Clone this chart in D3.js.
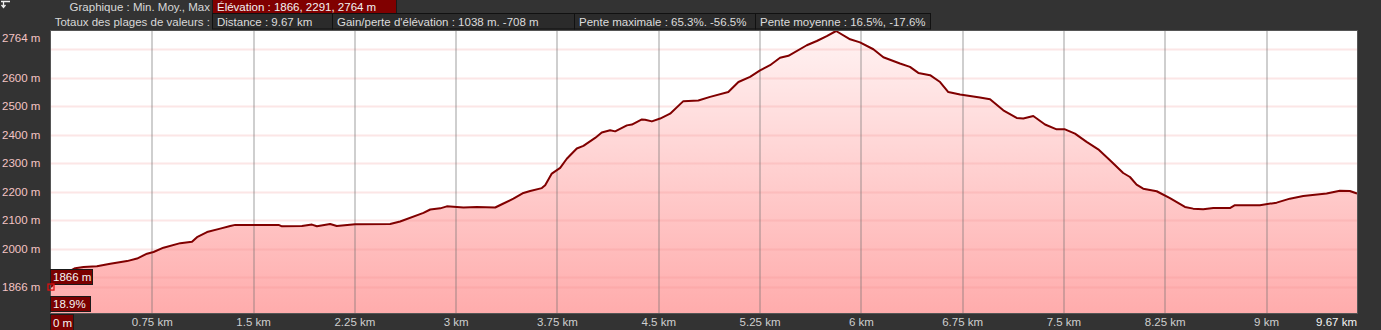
<!DOCTYPE html>
<html>
<head>
<meta charset="utf-8">
<script src="https://cdn.jsdelivr.net/npm/d3@7"></script>
<style>
body { margin: 0; background: #333; }
svg { display: block; font-family: "Liberation Sans", Arial, sans-serif; font-size: 11.5px; }
</style>
</head>
<body>
<svg width="1381" height="330"></svg>
<script>
var svg = d3.select('svg');

// profile: distance (km) / elevation (m)
var distKm = [0, 0.039, 0.106, 0.179, 0.241, 0.340, 0.439, 0.563, 0.637, 0.711, 0.759, 0.833, 0.957, 1.044, 1.081,
  1.155, 1.253, 1.327, 1.364, 1.685, 1.710, 1.858, 1.932, 1.969, 2.067, 2.116, 2.252, 2.511, 2.585, 2.758,
  2.808, 2.882, 2.931, 3.054, 3.153, 3.289, 3.350, 3.424, 3.498, 3.548, 3.634, 3.659, 3.708, 3.770, 3.819,
  3.893, 3.942, 4.029, 4.078, 4.140, 4.177, 4.264, 4.301, 4.375, 4.399, 4.449, 4.510, 4.584, 4.682, 4.793,
  4.880, 5.015, 5.090, 5.176, 5.250, 5.324, 5.398, 5.460, 5.596, 5.670, 5.744, 5.813, 5.917, 5.990, 6.089,
  6.163, 6.286, 6.360, 6.422, 6.509, 6.583, 6.644, 6.731, 6.878, 6.953, 7.051, 7.150, 7.199, 7.273, 7.360,
  7.446, 7.508, 7.582, 7.668, 7.754, 7.841, 7.939, 7.989, 8.038, 8.087, 8.187, 8.285, 8.396, 8.457, 8.531,
  8.606, 8.729, 8.766, 8.951, 9.075, 9.173, 9.272, 9.445, 9.543, 9.617, 9.67];
var elevM = [1866, 1890, 1914, 1932, 1936, 1939, 1948, 1957, 1966, 1983, 1989, 2004, 2020, 2025, 2041,
  2059, 2071, 2080, 2084, 2084, 2079, 2080, 2085, 2079, 2087, 2080, 2086, 2087, 2096, 2126,
  2138, 2142, 2149, 2145, 2147, 2145, 2159, 2176, 2196, 2203, 2213, 2223, 2264, 2284, 2316,
  2352, 2361, 2389, 2408, 2416, 2412, 2433, 2436, 2454, 2453, 2447, 2457, 2474, 2518, 2520,
  2533, 2550, 2585, 2603, 2626, 2644, 2670, 2677, 2714, 2729, 2746, 2764, 2735, 2724, 2700,
  2672, 2650, 2638, 2617, 2609, 2585, 2550, 2541, 2531, 2525, 2486, 2459, 2457, 2466, 2436,
  2419, 2419, 2404, 2375, 2349, 2311, 2266, 2252, 2225, 2211, 2202, 2178, 2147, 2141, 2139,
  2143, 2143, 2153, 2153, 2162, 2176, 2185, 2194, 2204, 2203, 2194];

var yGridVals = [1866, 1900, 2000, 2100, 2200, 2300, 2400, 2500, 2600, 2700];
var yLabelVals = [2764, 2600, 2500, 2400, 2300, 2200, 2100, 2000, 1866];
var xTickVals = [0.75, 1.5, 2.25, 3, 3.75, 4.5, 5.25, 6, 6.75, 7.5, 8.25, 9];
var xTickLabels = ['0.75 km', '1.5 km', '2.25 km', '3 km', '3.75 km', '4.5 km', '5.25 km', '6 km', '6.75 km', '7.5 km', '8.25 km', '9 km'];

var headerRow1 = ['Élévation : 1866, 2291, 2764 m'];
var headerRow2 = ['Distance : 9.67 km', 'Gain/perte d\'élévation : 1038 m. -708 m', 'Pente maximale : 65.3%. -56.5%', 'Pente moyenne : 16.5%, -17.6%'];

var data = distKm.map(function(d, i){ return {km: d, el: elevM[i]}; });

var x = d3.scaleLinear().domain([0, 9.67]).range([51, 1357]);
var y = d3.scaleLinear().domain([1775, 2764]).range([313, 31]);

// header
svg.append('path')
    .attr('d', 'M1,1.5H10M3.5,1.5V7M1.5,5L3.5,7.5L5.5,5')
    .attr('stroke', '#eee').attr('fill', 'none').attr('stroke-width', 1.3);

svg.append('text').attr('x', 210).attr('y', 6.7).attr('dy', '0.35em')
    .attr('text-anchor', 'end').attr('fill', '#d8d8d8').text('Graphique : Min. Moy., Max');
svg.append('text').attr('x', 210).attr('y', 21.5).attr('dy', '0.35em')
    .attr('text-anchor', 'end').attr('fill', '#d8d8d8').text('Totaux des plages de valeurs :');

svg.append('rect').attr('x', 212.5).attr('y', -1).attr('width', 184).attr('height', 14.5)
    .attr('fill', '#800000').attr('stroke', '#1a1a1a');
svg.append('text').attr('x', 217).attr('y', 6.7).attr('dy', '0.35em')
    .attr('fill', '#f2f2f2').text(headerRow1[0]);

var boxEdges = [212, 332, 574, 755, 930];
svg.selectAll('.hbox')
    .data(headerRow2)
    .enter()
    .append('rect')
    .attr('class', 'hbox')
    .attr('x', function(d, i){ return boxEdges[i] + 0.5; })
    .attr('y', 13.5)
    .attr('width', function(d, i){ return boxEdges[i + 1] - boxEdges[i]; })
    .attr('height', 15.5)
    .attr('fill', '#2b2b2b')
    .attr('stroke', '#111');
svg.selectAll('.htxt')
    .data(headerRow2)
    .enter()
    .append('text')
    .attr('class', 'htxt')
    .attr('x', function(d, i){ return boxEdges[i] + 5; })
    .attr('y', 21.5)
    .attr('dy', '0.35em')
    .attr('fill', '#dcdcdc')
    .text(function(d){ return d; });

// plot area
var defs = svg.append('defs');
var grad = defs.append('linearGradient')
    .attr('id', 'fillGrad')
    .attr('gradientUnits', 'userSpaceOnUse')
    .attr('x1', 0).attr('x2', 0).attr('y1', 31).attr('y2', 313);
grad.append('stop').attr('offset', '0%').attr('stop-color', '#fff3f3');
grad.append('stop').attr('offset', '100%').attr('stop-color', '#ffacac');

svg.append('rect').attr('x', 51).attr('y', 31).attr('width', 1306).attr('height', 282).attr('fill', '#fff');

var area = d3.area()
    .x(function(d){ return x(d.km); })
    .y0(313)
    .y1(function(d){ return y(d.el); });
svg.append('path').datum(data).attr('d', area).attr('fill', 'url(#fillGrad)');

svg.selectAll('.hgrid')
    .data(yGridVals)
    .enter()
    .append('line')
    .attr('class', 'hgrid')
    .attr('x1', 51).attr('x2', 1357)
    .attr('y1', function(d){ return Math.round(y(d)) + 0.5; })
    .attr('y2', function(d){ return Math.round(y(d)) + 0.5; })
    .attr('stroke', 'rgba(240,140,140,0.22)')
    .attr('stroke-width', 2);

svg.selectAll('.vgrid')
    .data(xTickVals)
    .enter()
    .append('line')
    .attr('class', 'vgrid')
    .attr('x1', function(d){ return Math.round(x(d)); })
    .attr('x2', function(d){ return Math.round(x(d)); })
    .attr('y1', 31).attr('y2', 313)
    .attr('stroke', 'rgba(110,110,110,0.33)')
    .attr('stroke-width', 2);

var line = d3.line()
    .x(function(d){ return x(d.km); })
    .y(function(d){ return y(d.el); });
svg.append('path').datum(data).attr('d', line)
    .attr('fill', 'none').attr('stroke', '#800000').attr('stroke-width', 2).attr('stroke-linejoin', 'round');

svg.append('rect').attr('x', 50.5).attr('y', 30.5).attr('width', 1307).attr('height', 283)
    .attr('fill', 'none').attr('stroke', '#555');

// y labels
svg.selectAll('.ylab')
    .data(yLabelVals)
    .enter()
    .append('text')
    .attr('class', 'ylab')
    .attr('x', 2)
    .attr('y', function(d){ return Math.max(y(d), 38); })
    .attr('dy', '0.35em')
    .attr('fill', '#f4c4c4')
    .text(function(d){ return d + ' m'; });

// x labels
svg.selectAll('.xlab')
    .data(xTickVals)
    .enter()
    .append('text')
    .attr('class', 'xlab')
    .attr('x', function(d){ return x(d); })
    .attr('y', 322)
    .attr('dy', '0.35em')
    .attr('text-anchor', 'middle')
    .attr('fill', '#cfcfcf')
    .text(function(d, i){ return xTickLabels[i]; });
svg.append('text').attr('x', 1357).attr('y', 322).attr('dy', '0.35em')
    .attr('text-anchor', 'end').attr('fill', '#f4f4f4').text('9.67 km');

// markers at start
function tagBox(bx, by, w, h, label){
    svg.append('rect').attr('x', bx + 0.5).attr('y', by + 0.5).attr('width', w).attr('height', h)
        .attr('fill', '#7a0000').attr('stroke', '#1a1a1a');
    svg.append('text').attr('x', bx + 3).attr('y', by + h / 2 + 0.5).attr('dy', '0.35em')
        .attr('fill', '#f4f4f4').text(label);
}
tagBox(50, 269, 42, 15, elevM[0] + ' m');
tagBox(50, 296, 40, 15, '18.9%');
tagBox(50, 314, 23, 16, '0 m');

svg.append('rect')
    .attr('x', x(0) - 3).attr('y', y(elevM[0]) - 3)
    .attr('width', 6).attr('height', 6)
    .attr('fill', 'none').attr('stroke', '#e01010').attr('stroke-width', 1.3);
</script>
</body>
</html>
